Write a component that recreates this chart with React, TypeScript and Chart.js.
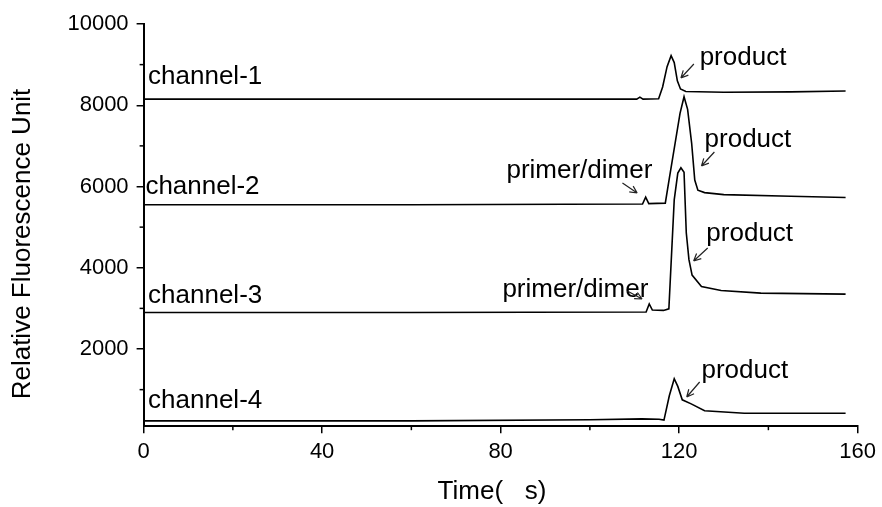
import React, { useEffect, useRef } from 'react';
import { Chart, registerables } from 'chart.js';

Chart.register(...registerables);

// ---- axis ticks ----
const xTicks = [0, 40, 80, 120, 160];
const xMinorTicks = [20, 60, 100, 140];
const yTicks = [2000, 4000, 6000, 8000, 10000];
const yMinorTicks = [1000, 3000, 5000, 7000, 9000];

// ---- series (time in s, relative fluorescence) ----
const ch1X = [0, 60, 110.5, 111.2, 111.9, 115.4, 116.3, 117.3, 118.2, 118.9, 119.6, 120.3, 121.5, 130, 145, 157.3];
const ch1Y = [8150, 8150, 8150, 8200, 8150, 8160, 8450, 8950, 9220, 9050, 8600, 8400, 8340, 8320, 8330, 8350];

const ch2X = [0, 60, 111.8, 112.5, 113.2, 116.9, 117.8, 119.0, 120.2, 121.1, 121.9, 122.8, 123.5, 124.2, 125.7, 130, 145, 157.3];
const ch2Y = [5550, 5550, 5570, 5740, 5580, 5590, 6200, 7000, 7800, 8210, 7900, 7070, 6160, 5910, 5850, 5800, 5760, 5730];

const ch3X = [0, 60, 112.6, 113.3, 114.0, 116.5, 117.7, 118.9, 119.7, 120.4, 121.1, 121.6, 122.2, 122.9, 125.0, 129.4, 138.3, 157.3];
const ch3Y = [2900, 2900, 2910, 3110, 2960, 2950, 2990, 5670, 6330, 6460, 6350, 4860, 4200, 3820, 3540, 3440, 3375, 3350];

const ch4X = [0, 60, 100, 111.7, 115.5, 116.6, 117.8, 118.9, 119.7, 120.7, 122.7, 125.7, 134.6, 157.3];
const ch4Y = [230, 230, 260, 280, 270, 250, 850, 1270, 1080, 750, 650, 480, 420, 420];

// ---- text annotations (data coordinates) ----
const labelTexts = ['channel-1', 'channel-2', 'channel-3', 'channel-4', 'product', 'product', 'product', 'product', 'primer/dimer', 'primer/dimer'];
const labelX = [1.0, 0.4, 1.0, 1.0, 124.6, 125.7, 126.1, 125.0, 81.3, 80.4];
const labelY = [8523, 5815, 3132, 548, 8991, 6972, 4658, 1286, 6209, 3280];

// arrows: tail -> head
const arrowX1 = [123.3, 127.9, 126.4, 124.6, 107.3, 108.4];
const arrowY1 = [9015, 6849, 4486, 1188, 6086, 3428];
const arrowX2 = [120.4, 125.0, 123.25, 121.7, 110.6, 111.7];
const arrowY2 = [8671, 6505, 4166, 819, 5840, 3231];

const xTitle = 'Time(   s)';
const yTitle = 'Relative Fluorescence Unit';

const FAMILY = '"Liberation Sans", Arial, Helvetica, sans-serif';

export default function App() {
  const ref = useRef<HTMLCanvasElement>(null);

  useEffect(() => {
    if (!ref.current) return;
    const mk = (xs: number[], ys: number[]) => xs.map((x, i) => ({ x, y: ys[i] }));

    const overlay = {
      id: 'overlay',
      afterDraw(chart: any) {
        const { ctx, chartArea } = chart;
        const sx = chart.scales.x;
        const sy = chart.scales.y;
        ctx.save();
        // minor ticks
        ctx.strokeStyle = '#000';
        ctx.lineWidth = 1.5;
        xMinorTicks.forEach((v) => {
          const px = sx.getPixelForValue(v);
          ctx.beginPath();
          ctx.moveTo(px, chartArea.bottom);
          ctx.lineTo(px, chartArea.bottom + 4);
          ctx.stroke();
        });
        yMinorTicks.forEach((v) => {
          const py = sy.getPixelForValue(v);
          ctx.beginPath();
          ctx.moveTo(chartArea.left, py);
          ctx.lineTo(chartArea.left - 4, py);
          ctx.stroke();
        });
        // text labels
        ctx.fillStyle = '#000';
        ctx.font = `26px ${FAMILY}`;
        ctx.textAlign = 'left';
        ctx.textBaseline = 'alphabetic';
        labelTexts.forEach((t, i) => {
          ctx.fillText(t, sx.getPixelForValue(labelX[i]), sy.getPixelForValue(labelY[i]));
        });
        // arrows
        ctx.strokeStyle = '#222';
        ctx.lineWidth = 1.2;
        arrowX1.forEach((_, i) => {
          const x1 = sx.getPixelForValue(arrowX1[i]);
          const y1 = sy.getPixelForValue(arrowY1[i]);
          const x2 = sx.getPixelForValue(arrowX2[i]);
          const y2 = sy.getPixelForValue(arrowY2[i]);
          const a = Math.atan2(y2 - y1, x2 - x1);
          const h = 8;
          ctx.beginPath();
          ctx.moveTo(x1, y1);
          ctx.lineTo(x2, y2);
          ctx.moveTo(x2, y2);
          ctx.lineTo(x2 - h * Math.cos(a - 0.45), y2 - h * Math.sin(a - 0.45));
          ctx.moveTo(x2, y2);
          ctx.lineTo(x2 - h * Math.cos(a + 0.45), y2 - h * Math.sin(a + 0.45));
          ctx.stroke();
        });
        // axis titles
        ctx.fillStyle = '#000';
        ctx.font = `26px ${FAMILY}`;
        ctx.textAlign = 'center';
        ctx.textBaseline = 'middle';
        ctx.fillText(xTitle, 492, 492);
        ctx.translate(23, 244);
        ctx.rotate(-Math.PI / 2);
        ctx.fillText(yTitle, 0, 0);
        ctx.restore();
      },
    };

    const lineStyle = {
      borderColor: '#000',
      borderWidth: 1.6,
      pointRadius: 0,
      tension: 0,
      fill: false,
    };

    const chart = new Chart(ref.current, {
      type: 'line',
      data: {
        datasets: [
          { label: 'channel-1', data: mk(ch1X, ch1Y), ...lineStyle },
          { label: 'channel-2', data: mk(ch2X, ch2Y), ...lineStyle },
          { label: 'channel-3', data: mk(ch3X, ch3Y), ...lineStyle },
          { label: 'channel-4', data: mk(ch4X, ch4Y), ...lineStyle },
        ],
      },
      options: {
        animation: false,
        responsive: true,
        maintainAspectRatio: false,
        layout: { padding: { top: 24, right: 18, bottom: 0, left: 0 } },
        plugins: { legend: { display: false }, tooltip: { enabled: false } },
        scales: {
          x: {
            type: 'linear',
            min: 0,
            max: 160,
            afterBuildTicks: (s: any) => {
              s.ticks = xTicks.map((v) => ({ value: v }));
            },
            afterFit: (s: any) => {
              s.height = 80.8;
            },
            border: { display: true, color: '#000', width: 2 },
            grid: { drawOnChartArea: false, drawTicks: true, tickLength: 7, color: '#000', lineWidth: 1.5 },
            ticks: {
              font: { size: 22, family: FAMILY },
              color: '#000',
              padding: 6,
              maxRotation: 0,
              autoSkip: false,
              callback: (v: any) => String(v),
            },
          },
          y: {
            type: 'linear',
            min: 100,
            max: 10000,
            afterBuildTicks: (s: any) => {
              s.ticks = yTicks.map((v) => ({ value: v }));
            },
            afterFit: (s: any) => {
              s.width = 143.6;
            },
            border: { display: true, color: '#000', width: 2 },
            grid: { drawOnChartArea: false, drawTicks: true, tickLength: 7, color: '#000', lineWidth: 1.5 },
            ticks: {
              font: { size: 22, family: FAMILY },
              color: '#000',
              padding: 8,
              autoSkip: false,
              callback: (v: any) => String(v),
            },
          },
        },
      },
      plugins: [overlay],
    } as any);

    return () => chart.destroy();
  }, []);

  return (
    <div style={{ position: 'fixed', left: 0, top: 0, width: 882, height: 507, background: '#fff' }}>
      <canvas ref={ref} />
    </div>
  );
}
